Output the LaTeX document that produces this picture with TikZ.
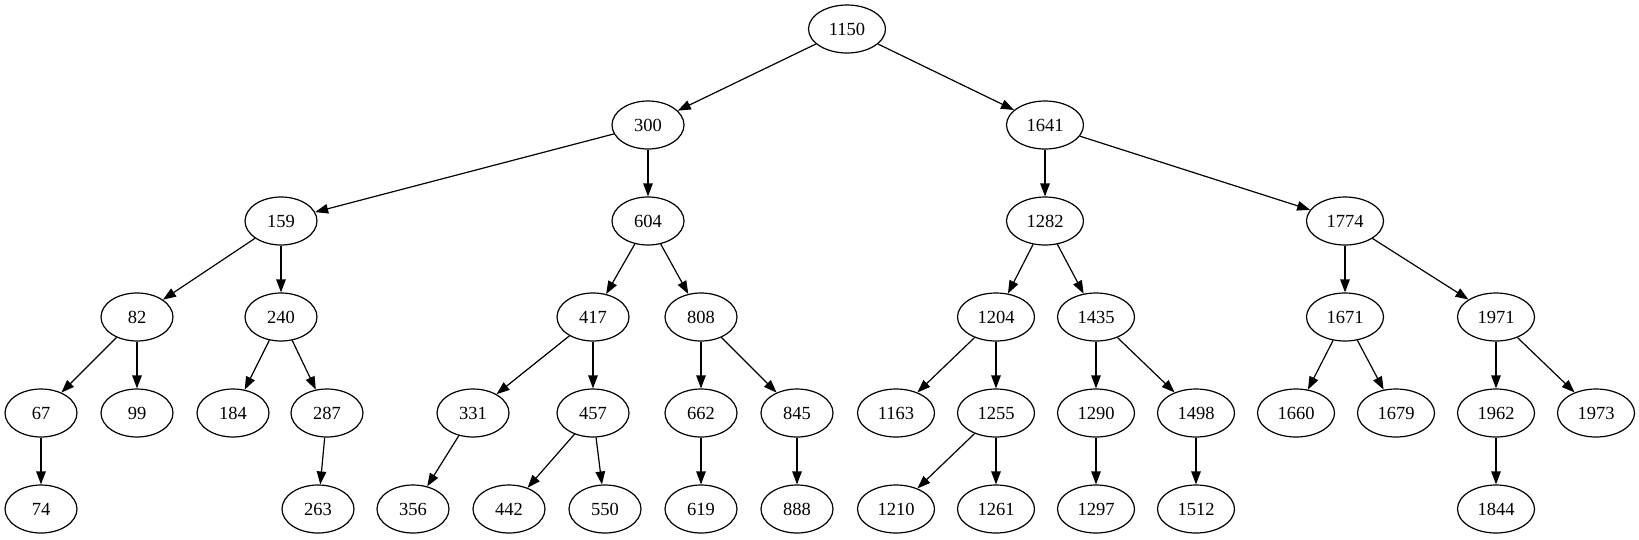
\documentclass[tikz,border=0pt]{standalone}
\usepackage{fontspec}
\setmainfont{Liberation Serif}
\usetikzlibrary{shapes.geometric,arrows.meta}
\begin{document}
\begin{tikzpicture}[x=1pt,y=-1pt,
  nd/.style={draw,ellipse,line width=1.2pt,inner sep=0pt,minimum width=72pt,minimum height=48pt,font=\fontsize{18.5}{20}\selectfont},
  nw/.style={nd,minimum width=77pt},
  ed/.style={draw,line width=1.2pt,-{Triangle[length=13pt,width=9.5pt]}}]
\useasboundingbox (0,0) rectangle (1639,539);
% row 1
\node[nw] (n1150) at (847,29) {1150};
% row 2
\node[nd] (n300) at (648,125) {300};
\node[nw] (n1641) at (1045,125) {1641};
% row 3
\node[nd] (n159) at (281,221) {159};
\node[nd] (n604) at (648,221) {604};
\node[nw] (n1282) at (1045,221) {1282};
\node[nw] (n1774) at (1345,221) {1774};
% row 4
\node[nd] (n82) at (137,317) {82};
\node[nd] (n240) at (281,317) {240};
\node[nd] (n417) at (593,317) {417};
\node[nd] (n808) at (701,317) {808};
\node[nw] (n1204) at (996,317) {1204};
\node[nw] (n1435) at (1096,317) {1435};
\node[nw] (n1671) at (1345,317) {1671};
\node[nw] (n1971) at (1496,317) {1971};
% row 5
\node[nd] (n67) at (41,413) {67};
\node[nd] (n99) at (137,413) {99};
\node[nd] (n184) at (233,413) {184};
\node[nd] (n287) at (327,413) {287};
\node[nd] (n331) at (473,413) {331};
\node[nd] (n457) at (593,413) {457};
\node[nd] (n662) at (701,413) {662};
\node[nd] (n845) at (797,413) {845};
\node[nw] (n1163) at (896,413) {1163};
\node[nw] (n1255) at (996,413) {1255};
\node[nw] (n1290) at (1096,413) {1290};
\node[nw] (n1498) at (1196,413) {1498};
\node[nw] (n1660) at (1296,413) {1660};
\node[nw] (n1679) at (1396,413) {1679};
\node[nw] (n1962) at (1496,413) {1962};
\node[nw] (n1973) at (1596,413) {1973};
% row 6
\node[nd] (n74) at (41,509) {74};
\node[nd] (n263) at (318,509) {263};
\node[nd] (n356) at (413,509) {356};
\node[nd] (n442) at (509,509) {442};
\node[nd] (n550) at (605,509) {550};
\node[nd] (n619) at (701,509) {619};
\node[nd] (n888) at (797,509) {888};
\node[nw] (n1210) at (896,509) {1210};
\node[nw] (n1261) at (996,509) {1261};
\node[nw] (n1297) at (1096,509) {1297};
\node[nw] (n1512) at (1196,509) {1512};
\node[nw] (n1844) at (1496,509) {1844};
% edges
\foreach \a/\b in {n1150/n300,n1150/n1641,n300/n159,n300/n604,n1641/n1282,n1641/n1774,
  n159/n82,n159/n240,n604/n417,n604/n808,n1282/n1204,n1282/n1435,n1774/n1671,n1774/n1971,
  n82/n67,n82/n99,n240/n184,n240/n287,n417/n331,n417/n457,n808/n662,n808/n845,
  n1204/n1163,n1204/n1255,n1435/n1290,n1435/n1498,n1671/n1660,n1671/n1679,n1971/n1962,n1971/n1973,
  n67/n74,n287/n263,n331/n356,n457/n442,n457/n550,n662/n619,n845/n888,
  n1255/n1210,n1255/n1261,n1290/n1297,n1498/n1512,n1962/n1844}
  \path[ed] (\a) -- (\b);
\end{tikzpicture}
\end{document}
